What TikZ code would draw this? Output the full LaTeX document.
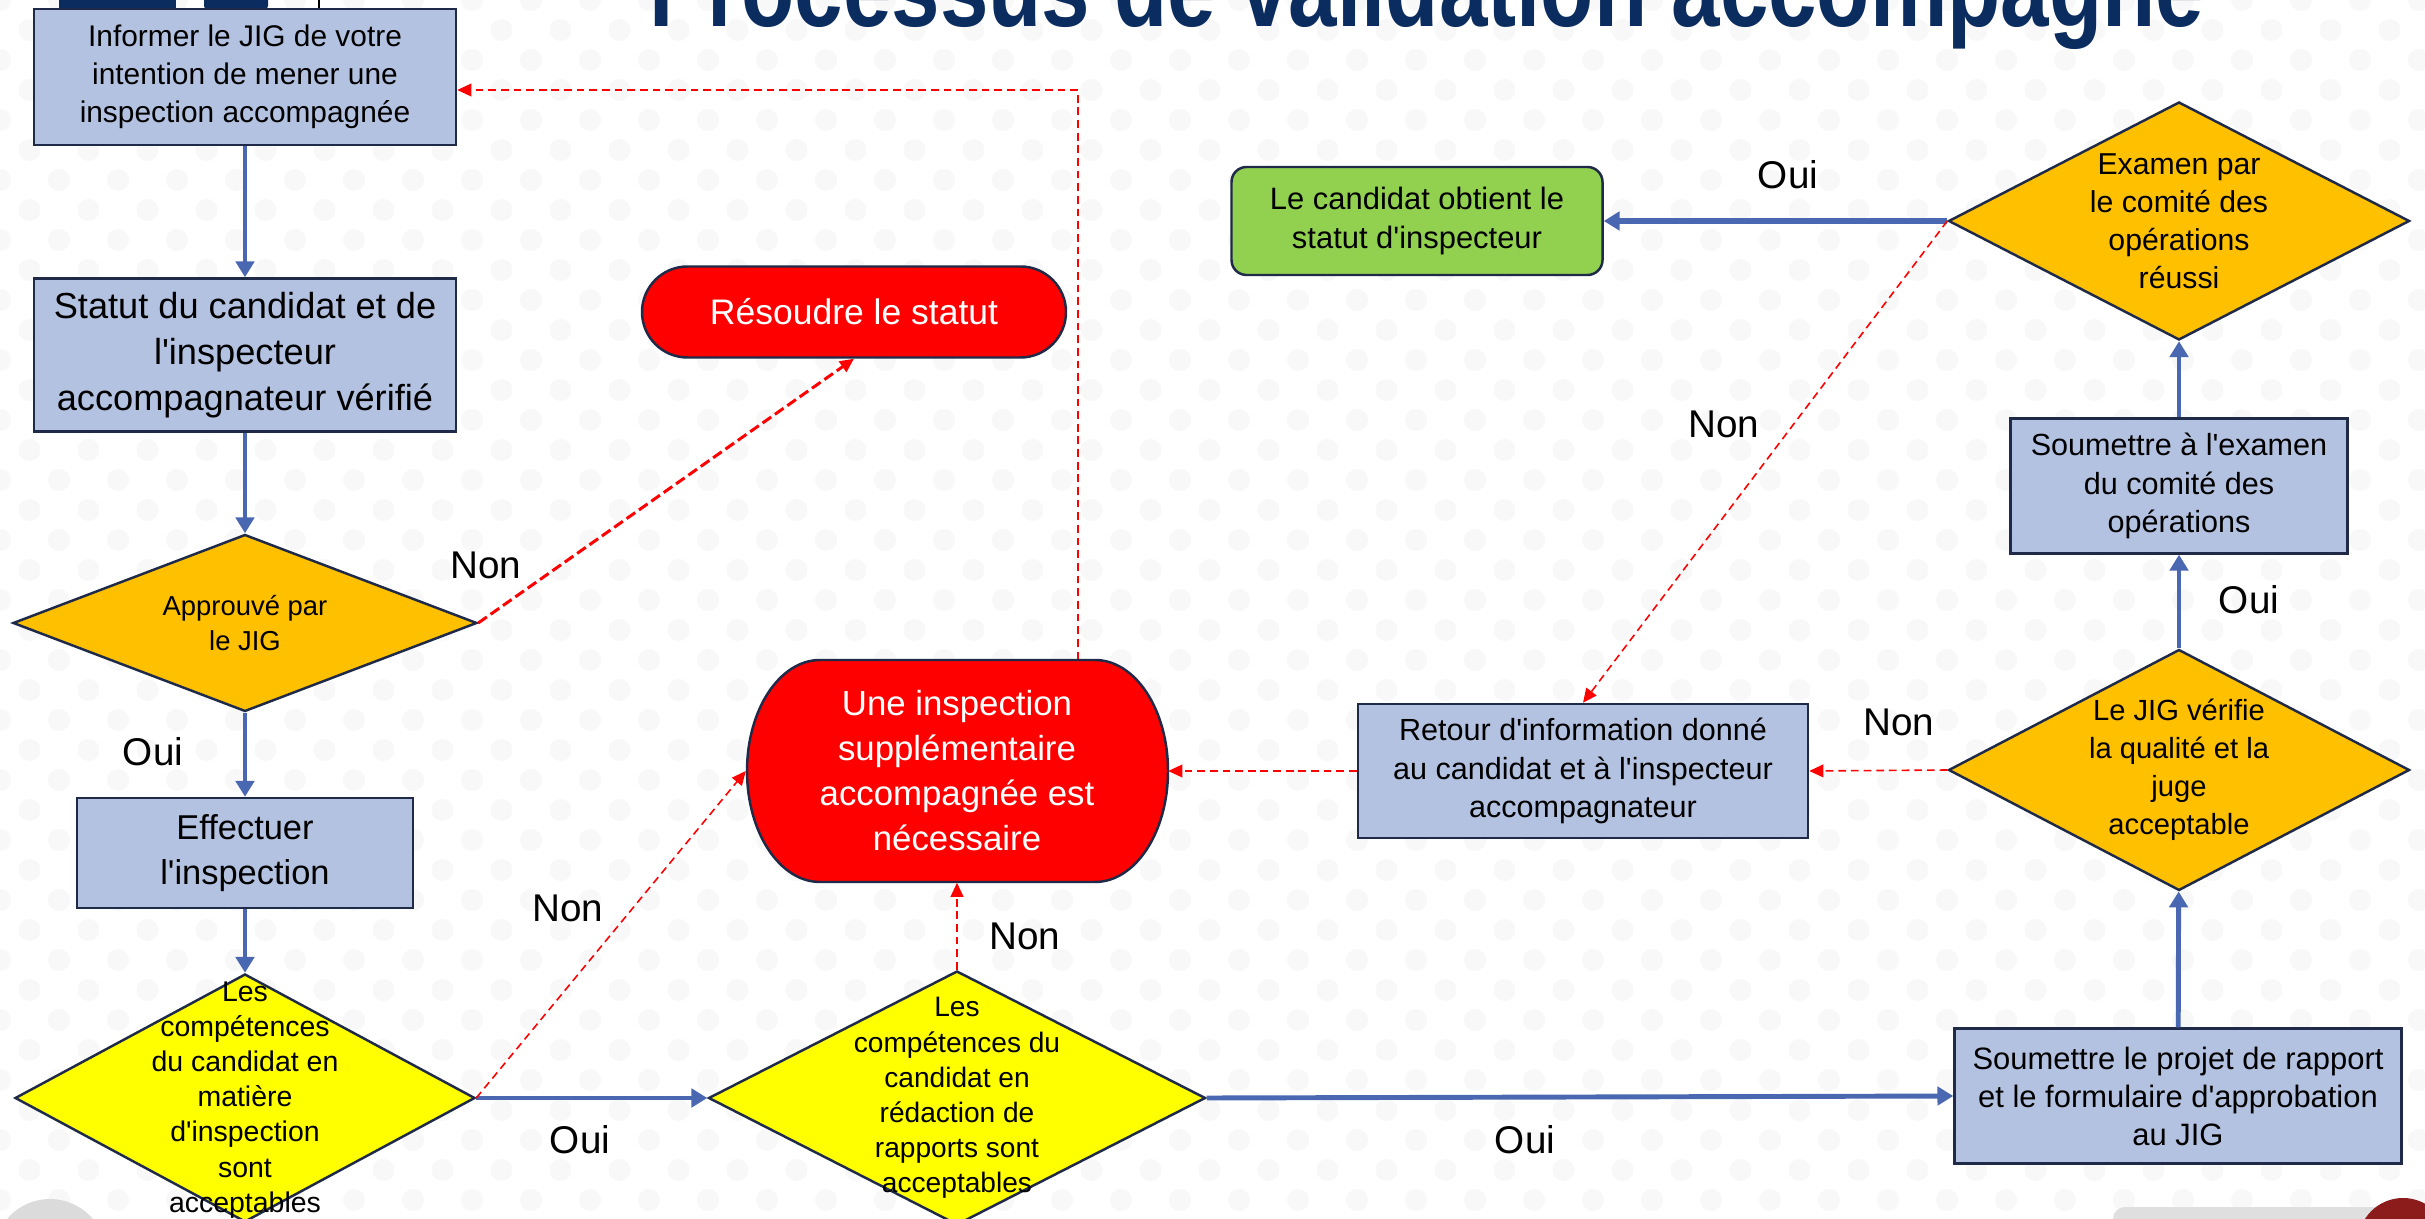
\documentclass[tikz,border=0pt]{standalone}
\usepackage{fontspec}
\usepackage{graphicx}
\newfontfamily\diagfont{Liberation Sans}
\usetikzlibrary{shapes.geometric,arrows.meta,calc}

\definecolor{boxblue}{RGB}{180,194,225}
\definecolor{edgenavy}{RGB}{31,42,72}
\definecolor{flowblue}{RGB}{74,104,178}
\definecolor{decisionorange}{RGB}{255,192,0}
\definecolor{decisionyellow}{RGB}{255,255,0}
\definecolor{alertred}{RGB}{255,0,0}
\definecolor{okgreen}{RGB}{146,208,80}
\definecolor{titlenavy}{RGB}{11,44,94}
\definecolor{logored}{RGB}{140,28,28}
\definecolor{dotgray}{RGB}{248,248,248}

\tikzset{
  process/.style={draw=edgenavy, line width=0.7pt, fill=boxblue, align=center, inner sep=0pt},
  decision/.style={diamond, draw=edgenavy, line width=0.7pt, inner sep=0pt},
  dtext/.style={align=center, inner sep=0pt},
  flow/.style={draw=flowblue, line width=1.4pt, -{Triangle[length=4.5pt,width=5.2pt]}},
  back/.style={draw=alertred, line width=0.45pt, dash pattern=on 2.2pt off 1.4pt,
               -{Triangle[length=4pt,width=3.6pt]}},
  answer/.style={font=\fontsize{11}{13}\selectfont, inner sep=0pt},
}

\begin{document}
\begin{tikzpicture}
\diagfont
\useasboundingbox (0,0) rectangle (24.25,12.18);
\clip (0,0) rectangle (24.25,12.18);
\fill[white] (0,0) rectangle (24.25,12.18);

% faint dotted background
\foreach \r in {0,...,40} {
  \pgfmathsetmacro{\yy}{12.18-0.30*\r}
  \pgfmathsetmacro{\xo}{mod(\r,2)*0.295}
  \foreach \c in {0,...,41} {
    \fill[dotgray] (\xo+0.59*\c,\yy) circle (0.11);
  }
}

% corner decorations
\fill[titlenavy] (0.59,12.07) rectangle (1.76,12.30);
\fill[titlenavy, rounded corners=0.05cm] (2.04,12.07) rectangle (2.68,12.30);
\draw[black, line width=0.4pt] (3.19,12.07) -- (3.19,12.18);
\fill[gray!28] (0.50,-0.37) circle (0.56);
\fill[gray!25, rounded corners=0.12cm] (21.13,-0.40) rectangle (24.10,0.11);
\fill[logored] (24.03,-0.25) circle (0.45);

% title
\node[anchor=base, text=titlenavy, inner sep=0pt,
      font=\bfseries\fontsize{31}{31}\selectfont] (title) at (14.27,11.91)
      {\scalebox{0.80}[1]{Processus de validation accompagné}};

% left column
\node[process, minimum width=4.22cm, minimum height=1.36cm,
      font=\fontsize{8.5}{10.8}\selectfont] (inform) at (2.45,11.41)
      {Informer le JIG de votre\\intention de mener une\\inspection accompagnée};
\node[process, minimum width=4.22cm, minimum height=1.53cm,
      font=\fontsize{10.3}{13}\selectfont] (status) at (2.45,8.63)
      {Statut du candidat et de\\l'inspecteur\\accompagnateur vérifié};
\node[decision, fill=decisionorange, minimum width=4.64cm, minimum height=1.77cm] (approved) at (2.45,5.95) {};
\node[dtext, font=\fontsize{7.8}{9.7}\selectfont] (approvedtxt) at (approved) {Approuvé par\\le JIG};
\node[process, minimum width=3.36cm, minimum height=1.10cm,
      font=\fontsize{9.8}{12.8}\selectfont] (perform) at (2.45,3.65)
      {Effectuer\\l'inspection};
\node[decision, fill=decisionyellow, minimum width=4.60cm, minimum height=2.48cm] (inspskill) at (2.45,1.20) {};
\node[dtext, font=\fontsize{8.1}{10}\selectfont] (inspskilltxt) at (2.45,1.18)
      {Les\\compétences\\du candidat en\\matière\\d'inspection\\sont\\acceptables};

% middle column
\node[draw=edgenavy, line width=0.7pt, fill=alertred, rounded corners=0.455cm,
      minimum width=4.24cm, minimum height=0.91cm, inner sep=0pt, text=white,
      font=\fontsize{10.1}{12}\selectfont] (resolve) at (8.54,9.06) {Résoudre le statut};
\path[draw=edgenavy, line width=0.7pt, fill=alertred]
  (8.20,5.58) -- (10.95,5.58)
  arc[start angle=90, end angle=-90, x radius=0.73cm, y radius=1.11cm]
  -- (8.20,3.36)
  arc[start angle=270, end angle=90, x radius=0.73cm, y radius=1.11cm] -- cycle;
\node[minimum width=4.21cm, minimum height=2.22cm, inner sep=0pt, align=center,
      text=white, font=\fontsize{9.9}{12.8}\selectfont] (extra) at (9.57,4.47)
      {Une inspection\\supplémentaire\\accompagnée est\\nécessaire};
\node[decision, fill=decisionyellow, minimum width=4.97cm, minimum height=2.54cm] (reportskill) at (9.57,1.20) {};
\node[dtext, font=\fontsize{8.0}{10}\selectfont] (reportskilltxt) at (9.57,1.20)
      {Les\\compétences du\\candidat en\\rédaction de\\rapports sont\\acceptables};

% right part
\node[draw=edgenavy, line width=0.7pt, fill=okgreen, rounded corners=0.15cm,
      minimum width=3.71cm, minimum height=1.08cm, inner sep=0pt, align=center,
      font=\fontsize{8.8}{11}\selectfont] (granted) at (14.17,9.97)
      {Le candidat obtient le\\statut d'inspecteur};
\node[process, minimum width=4.50cm, minimum height=1.34cm,
      font=\fontsize{8.7}{11}\selectfont] (feedback) at (15.83,4.47)
      {Retour d'information donné\\au candidat et à l'inspecteur\\accompagnateur};
\node[decision, fill=decisionorange, minimum width=4.61cm, minimum height=2.38cm] (committee) at (21.79,9.97) {};
\node[dtext, font=\fontsize{8.6}{10.8}\selectfont] (committeetxt) at (committee)
      {Examen par\\le comité des\\opérations\\réussi};
\node[process, minimum width=3.37cm, minimum height=1.35cm,
      font=\fontsize{8.7}{11}\selectfont] (submitreview) at (21.79,7.32)
      {Soumettre à l'examen\\du comité des\\opérations};
\node[decision, fill=decisionorange, minimum width=4.61cm, minimum height=2.41cm] (quality) at (21.79,4.48) {};
\node[dtext, font=\fontsize{8.3}{10.8}\selectfont] (qualitytxt) at (quality)
      {Le JIG vérifie\\la qualité et la\\juge\\acceptable};
\node[process, minimum width=4.47cm, minimum height=1.35cm,
      font=\fontsize{8.8}{10.8}\selectfont] (draft) at (21.78,1.22)
      {Soumettre le projet de rapport\\et le formulaire d'approbation\\au JIG};

% main flow
\draw[flow] (inform) -- (status);
\draw[flow] (status) -- (approved);
\draw[flow] (approved) -- (perform);
\draw[flow] (perform) -- (inspskill);
\draw[flow] (inspskill.east) -- (reportskill.west);
\draw[flow] (reportskill.east) -- (draft.west);
\draw[flow] (draft) -- (quality);
\draw[flow] (quality) -- (submitreview);
\draw[flow] (submitreview) -- (committee);
\draw[flow, line width=1.8pt] (committee.west) -- (granted.east);

% return paths
\draw[back, line width=0.85pt, dash pattern=on 3pt off 1.3pt] (approved.east) -- (resolve.south);
\draw[back] (inspskill.east) -- (extra.west);
\draw[back] (reportskill.north) -- (extra.south);
\coordinate (extratop) at ([xshift=1.21cm]extra.north);
\draw[back] (extratop) |- ([yshift=-0.13cm]inform.east);
\draw[back] (feedback.west) -- (extra.east);
\draw[back] (quality.west) -- (feedback.east);
\draw[back] (committee.west) -- (feedback.north);

% answers
\node[answer] (non1) at (4.86,6.53) {Non};
\node[answer] (oui1) at (1.53,4.66) {Oui};
\node[answer] (non2) at (5.68,3.10) {Non};
\node[answer] (oui2) at (5.80,0.78) {Oui};
\node[answer] (non3) at (10.25,2.82) {Non};
\node[answer] (oui3) at (15.25,0.78) {Oui};
\node[answer] (non4) at (18.99,4.96) {Non};
\node[answer] (oui4) at (22.49,6.18) {Oui};
\node[answer] (non5) at (17.24,7.94) {Non};
\node[answer] (oui5) at (17.88,10.43) {Oui};
\end{tikzpicture}
\end{document}
